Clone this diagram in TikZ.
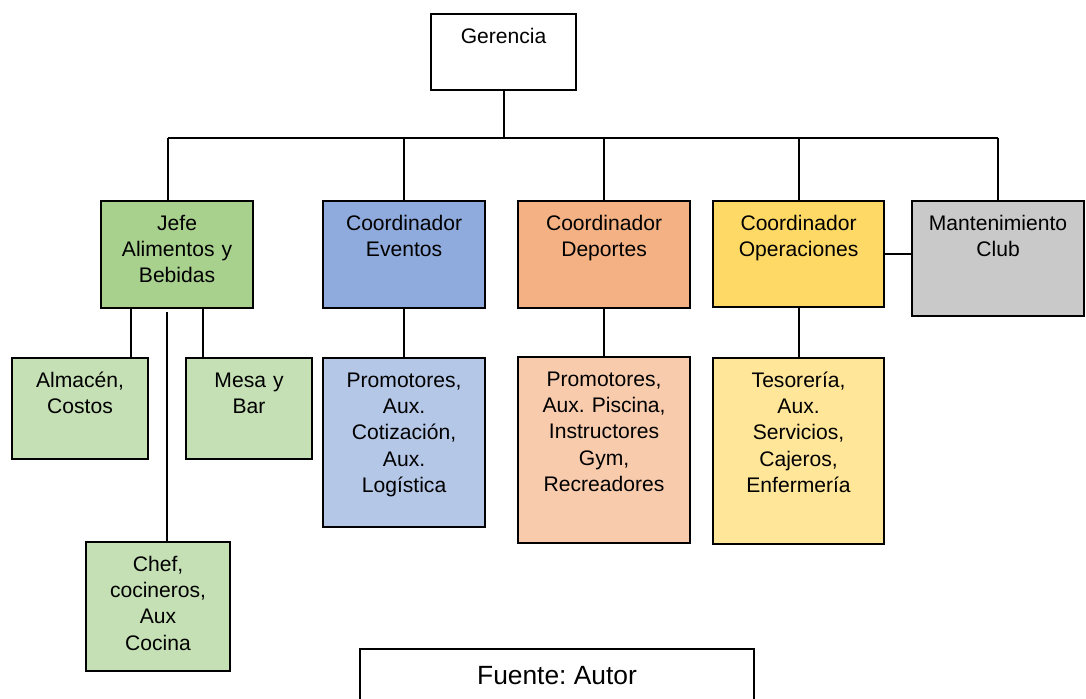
\documentclass[tikz,border=0pt]{standalone}
\usepackage{fontspec}
\setmainfont{Liberation Sans}
\usetikzlibrary{positioning}
\frenchspacing
\definecolor{verdeJefe}{HTML}{A9D18E}
\definecolor{verdeSub}{HTML}{C5E0B4}
\definecolor{azulCoord}{HTML}{8FAADC}
\definecolor{azulSub}{HTML}{B4C7E7}
\definecolor{naranjaCoord}{HTML}{F4B183}
\definecolor{naranjaSub}{HTML}{F8CBAD}
\definecolor{amarilloCoord}{HTML}{FFD966}
\definecolor{amarilloSub}{HTML}{FFE699}
\definecolor{grisMant}{HTML}{C9C9C9}

\begin{document}
\begin{tikzpicture}[
  cargo/.style={draw, line width=1.2pt, anchor=north west, inner sep=0pt},
  rotulo/.style={anchor=north, yshift=-8pt, inner sep=0pt, text width=3cm, align=center, text height=9pt, font=\fontsize{12}{15}\selectfont},
  enlace/.style={line width=1.2pt}
]
  \useasboundingbox (0,0) rectangle (21.72,-13.96);

  % Gerencia
  \node[cargo, minimum width=2.9cm, minimum height=1.52cm] (ger) at (8.6,-0.26) {};
  \node[rotulo] (ger-t) at (ger.north) {Gerencia};

  % Jefes y coordinadores
  \node[cargo, fill=verdeJefe, minimum width=3.04cm, minimum height=2.14cm] (jefe) at (2.0,-4.0) {};
  \node[rotulo] (jefe-t) at (jefe.north) {Jefe\\Alimentos y\\Bebidas};

  \node[cargo, fill=azulCoord, minimum width=3.24cm, minimum height=2.14cm] (even) at (6.44,-4.0) {};
  \node[rotulo] (even-t) at (even.north) {Coordinador\\Eventos};

  \node[cargo, fill=naranjaCoord, minimum width=3.44cm, minimum height=2.14cm] (depo) at (10.34,-4.0) {};
  \node[rotulo] (depo-t) at (depo.north) {Coordinador\\Deportes};

  \node[cargo, fill=amarilloCoord, minimum width=3.42cm, minimum height=2.12cm] (oper) at (14.24,-4.0) {};
  \node[rotulo] (oper-t) at (oper.north) {Coordinador\\Operaciones};

  \node[cargo, fill=grisMant, minimum width=3.44cm, minimum height=2.3cm] (mant) at (18.22,-4.0) {};
  \node[rotulo] (mant-t) at (mant.north) {Mantenimiento\\Club};

  % Personal a cargo
  \node[cargo, fill=verdeSub, minimum width=2.72cm, minimum height=2.02cm] (alm) at (0.22,-7.14) {};
  \node[rotulo] (alm-t) at (alm.north) {Almacén,\\Costos};

  \node[cargo, fill=verdeSub, minimum width=2.52cm, minimum height=2.02cm] (mesa) at (3.7,-7.14) {};
  \node[rotulo] (mesa-t) at (mesa.north) {Mesa y\\Bar};

  \node[cargo, fill=verdeSub, minimum width=2.88cm, minimum height=2.58cm] (chef) at (1.7,-10.82) {};
  \node[rotulo] (chef-t) at (chef.north) {Chef,\\cocineros,\\Aux\\Cocina};

  \node[cargo, fill=azulSub, minimum width=3.24cm, minimum height=3.38cm] (pevent) at (6.44,-7.14) {};
  \node[rotulo] (pevent-t) at (pevent.north) {Promotores,\\Aux.\\Cotización,\\Aux.\\Logística};

  \node[cargo, fill=naranjaSub, minimum width=3.44cm, minimum height=3.72cm] (pdepo) at (10.34,-7.12) {};
  \node[rotulo] (pdepo-t) at (pdepo.north) {Promotores,\\Aux. Piscina,\\Instructores\\Gym,\\Recreadores};

  \node[cargo, fill=amarilloSub, minimum width=3.42cm, minimum height=3.72cm] (poper) at (14.24,-7.14) {};
  \node[rotulo] (poper-t) at (poper.north) {Tesorería,\\Aux.\\Servicios,\\Cajeros,\\Enfermería};

  % Fuente
  \node[draw, line width=1.2pt, minimum width=7.88cm, minimum height=1.08cm, font=\fontsize{15}{18}\selectfont] (fuente) at (11.14,-13.52) {Fuente: Autor};

  % Lineas de mando
  \coordinate (bus) at (0,-2.76);
  \coordinate (jdrop) at ([xshift=-0.18cm]jefe.north);
  \draw[enlace] (ger.south) -- (ger.south |- bus);
  \draw[enlace] (jdrop |- bus) -- (mant.north |- bus);
  \draw[enlace] (jdrop) -- (jdrop |- bus);
  \foreach \n in {even, depo, oper, mant}
    \draw[enlace] (\n.north) -- (\n.north |- bus);
  \draw[enlace] (oper.east) -- (oper.east -| mant.west);

  \coordinate (jalm) at ([xshift=-0.92cm]jefe.south);
  \coordinate (jmesa) at ([xshift=0.52cm]jefe.south);
  \coordinate (jchef) at ([xshift=-0.2cm,yshift=-0.06cm]jefe.south);
  \draw[enlace] (jalm) -- (jalm |- alm.north);
  \draw[enlace] (jmesa) -- (jmesa |- mesa.north);
  \draw[enlace] (jchef) -- (jchef |- chef.north);

  \draw[enlace] (even.south) -- (pevent.north);
  \draw[enlace] (depo.south) -- (pdepo.north);
  \draw[enlace] (oper.south) -- (poper.north);
\end{tikzpicture}
\end{document}
